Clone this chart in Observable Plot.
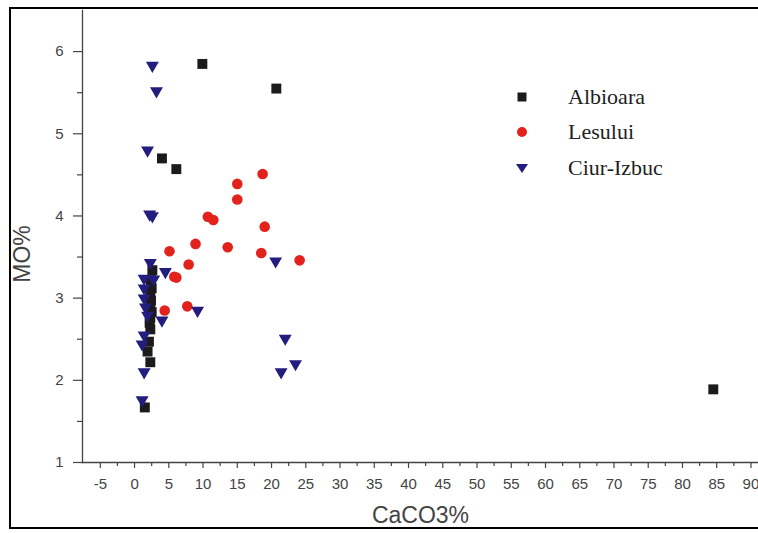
<!DOCTYPE html>
<html>
<head>
<meta charset="utf-8">
<script src="https://cdn.jsdelivr.net/npm/d3@7"></script>
<script src="https://cdn.jsdelivr.net/npm/@observablehq/plot@0.6"></script>
<style>
  html, body { margin: 0; padding: 0; background: #fff; overflow: hidden; }
  #wrap { position: relative; width: 758px; height: 533px; overflow: hidden; }
  #chart { position: absolute; left: 0; top: 0; }
  #border { position: absolute; left: 9px; top: 7px; width: 800px; height: 518px; border: 2px solid #000; pointer-events: none; }
  #legend { position: absolute; left: 0; top: 0; font-family: "Liberation Serif", "Times New Roman", serif; font-size: 22px; color: #222; }
  .row { position: absolute; height: 30px; }
  .row svg { position: absolute; }
  .row span { position: absolute; white-space: nowrap; line-height: 30px; }
  #ylabel { position: absolute; left: 22px; top: 254px; transform: translate(-50%, -50%) rotate(-90deg);
            font-family: "Liberation Sans", Arial, sans-serif; font-size: 23px; color: #444; white-space: nowrap; line-height: 1; }
</style>
</head>
<body>
<div id="wrap">
  <div id="chart"></div>
  <div id="ylabel"></div>
  <div id="legend"></div>
  <div id="border"></div>
</div>
<script>
// ---- data ----
const seriesNames = ["Albioara", "Lesului", "Ciur-Izbuc"];
const seriesColors = ["#1c1a1a", "#e3221c", "#231d7e"];

const albioaraX = [9.9, 20.7, 4.0, 6.1, 84.5, 2.6, 2.4, 2.5, 2.3, 2.4, 2.3, 2.5, 2.3, 2.2, 2.3, 2.1, 1.9, 2.3, 1.5];
const albioaraY = [5.85, 5.55, 4.70, 4.57, 1.89, 3.34, 3.22, 3.12, 3.05, 2.97, 2.90, 2.83, 2.76, 2.70, 2.62, 2.47, 2.35, 2.22, 1.67];

const lesuluiX = [18.7, 15.0, 15.0, 10.7, 11.5, 19.0, 8.9, 13.6, 5.1, 18.5, 24.1, 7.9, 5.8, 6.1, 7.7, 4.4];
const lesuluiY = [4.51, 4.39, 4.20, 3.99, 3.95, 3.87, 3.66, 3.62, 3.57, 3.55, 3.46, 3.41, 3.26, 3.25, 2.90, 2.85];

const ciurX = [2.6, 3.2, 1.9, 2.2, 2.6, 2.3, 4.5, 1.4, 2.8, 1.4, 1.4, 1.6, 1.9, 4.0, 1.4, 1.1, 1.4, 1.1, 20.6, 9.2, 22.0, 23.5, 21.4];
const ciurY = [5.83, 5.52, 4.80, 4.02, 4.00, 3.43, 3.32, 3.24, 3.23, 3.12, 3.00, 2.89, 2.79, 2.73, 2.55, 2.44, 2.10, 1.76, 3.45, 2.85, 2.51, 2.20, 2.10];

const xTicks = [-5, 0, 5, 10, 15, 20, 25, 30, 35, 40, 45, 50, 55, 60, 65, 70, 75, 80, 85, 90];
const xMinorTicks = [-2.5, 2.5, 7.5, 12.5, 17.5, 22.5, 27.5, 32.5, 37.5, 42.5, 47.5, 52.5, 57.5, 62.5, 67.5, 72.5, 77.5, 82.5, 87.5];
const yTicks = [1, 2, 3, 4, 5, 6];
const yMinorTicks = [1.5, 2.5, 3.5, 4.5, 5.5];
const xDomain = [-7.6, 91.1];
const yDomain = [1, 6.5];
const xLabel = "CaCO3%";
const yLabel = "MO%";

// ---- build ----
const zip = (xs, ys) => xs.map((x, i) => ({x, y: ys[i]}));
const alb = zip(albioaraX, albioaraY);
const les = zip(lesuluiX, lesuluiY);
const ciur = zip(ciurX, ciurY);
const fmt = d => String(d);

const axisColor = "#444";
const chart = Plot.plot({
  width: 758,
  height: 533,
  marginLeft: 82,
  marginRight: 0,
  marginTop: 10,
  marginBottom: 71,
  style: {fontFamily: "'Liberation Sans', Arial, sans-serif", background: "transparent", overflow: "visible"},
  x: {domain: xDomain},
  y: {domain: yDomain},
  marks: [
    Plot.frame({anchor: "left", stroke: axisColor, strokeWidth: 1.3}),
    Plot.frame({anchor: "bottom", stroke: axisColor, strokeWidth: 1.3}),
    Plot.axisY({ticks: yTicks, tickFormat: fmt, tickSize: 9, tickPadding: 10, fontSize: 15, color: axisColor, label: null, strokeWidth: 1.2}),
    Plot.axisY({ticks: yMinorTicks, tickSize: 5, text: null, color: axisColor, label: null, strokeWidth: 1.2}),
    Plot.axisX({ticks: xTicks, tickFormat: fmt, tickSize: 6, tickPadding: 10, fontSize: 15, color: axisColor, label: null, strokeWidth: 1.2}),
    Plot.axisX({ticks: xMinorTicks, tickSize: 4, text: null, color: axisColor, label: null, strokeWidth: 1.2}),
    Plot.text([xLabel], {frameAnchor: "bottom", dy: 60, fontSize: 23, fill: axisColor}),
    Plot.dot(alb, {x: "x", y: "y", symbol: "square", r: 5.6, fill: seriesColors[0], stroke: "none"}),
    Plot.dot(les, {x: "x", y: "y", symbol: "circle", r: 5.3, fill: seriesColors[1], stroke: "none"}),
    Plot.dot(ciur, {x: "x", y: "y", symbol: "triangle", r: 4.8, rotate: 180, fill: seriesColors[2], stroke: "none"})
  ]
});
document.getElementById("chart").appendChild(chart);
document.getElementById("ylabel").textContent = yLabel;

// ---- legend ----
const legendRows = [
  {name: seriesNames[0], color: seriesColors[0], shape: "square"},
  {name: seriesNames[1], color: seriesColors[1], shape: "circle"},
  {name: seriesNames[2], color: seriesColors[2], shape: "triangle"}
];
const legendTop = [82, 117, 153];
const legend = document.getElementById("legend");
legendRows.forEach((d, i) => {
  const row = document.createElement("div");
  row.className = "row";
  row.style.left = "510px";
  row.style.top = legendTop[i] + "px";
  let shape;
  if (d.shape === "square") shape = `<rect x="7.5" y="10.5" width="9" height="9" fill="${d.color}"/>`;
  else if (d.shape === "circle") shape = `<circle cx="12" cy="15" r="5" fill="${d.color}"/>`;
  else shape = `<path d="M6,11 L18,11 L12,20 Z" fill="${d.color}"/>`;
  row.innerHTML = `<svg width="24" height="30" style="left:0;top:0">${shape}</svg><span style="left:58px;top:0">${d.name}</span>`;
  legend.appendChild(row);
});
</script>
</body>
</html>
